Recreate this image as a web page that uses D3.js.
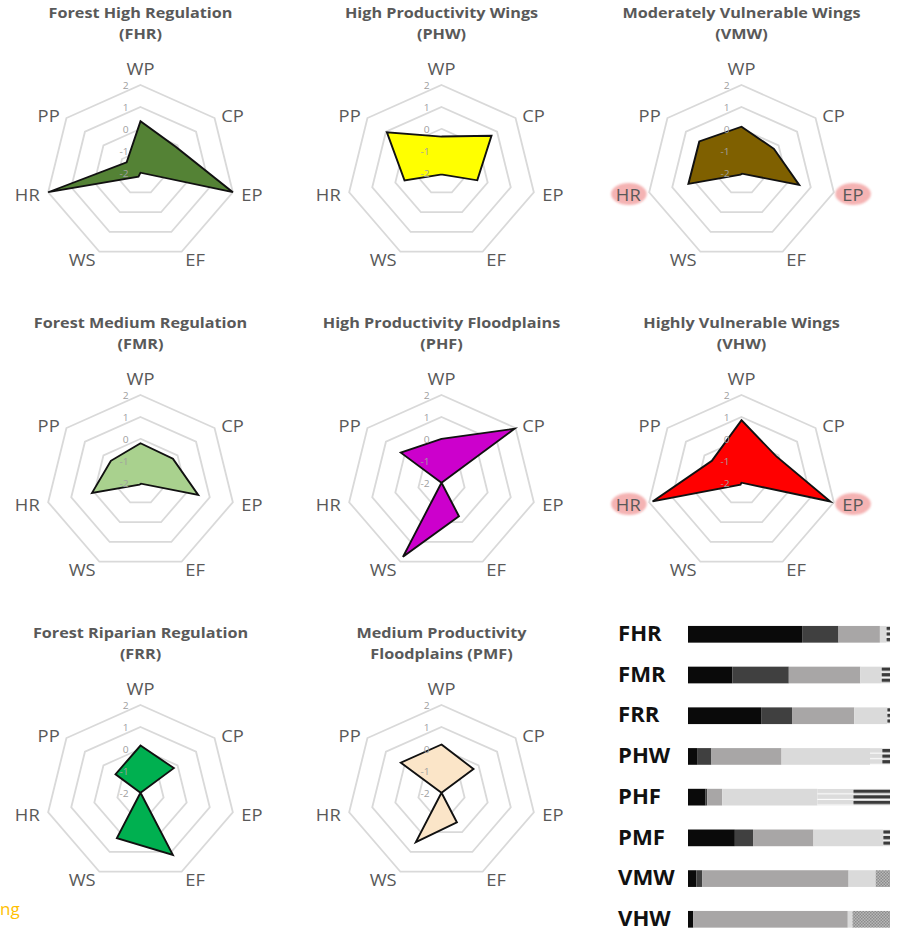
<!DOCTYPE html>
<html>
<head>
<meta charset="utf-8">
<script src="https://cdn.jsdelivr.net/npm/d3@7"></script>
<style>
  body { margin: 0; background: #fff; }
  svg { display: block; }
</style>
</head>
<body>
<svg id="chart" width="899" height="932"></svg>
<script>
// ---- Radar profiles -------------------------------------------------------
const axes = ["WP", "CP", "EP", "EF", "WS", "HR", "PP"];
const ringValues = [-1, 0, 1, 2];
const tickValues = [-2, -1, 0, 1, 2];

const profileCodes = ["FHR", "PHW", "VMW", "FMR", "PHF", "VHW", "FRR", "PMF"];
const titleLine1 = ["Forest High Regulation", "High Productivity Wings", "Moderately Vulnerable Wings",
                    "Forest Medium Regulation", "High Productivity Floodplains", "Highly Vulnerable Wings",
                    "Forest Riparian Regulation", "Medium Productivity"];
const titleLine2 = ["(FHR)", "(PHW)", "(VMW)", "(FMR)", "(PHF)", "(VHW)", "(FRR)", "Floodplains (PMF)"];

// scores on WP, CP, EP, EF, WS, HR, PP
const fhrScores = [0.35, -0.1, 2.0, -2.0, -1.8, 2.0, -1.25];
const phwScores = [-0.35, 0.7, -0.45, -1.9, -1.9, -0.4, 0.95];
const vmwScores = [0.1, -0.25, 0.5, -1.95, -1.9, 0.3, 0.28];
const fmrScores = [-0.2, -0.25, 0.5, -1.95, -1.9, 0.1, -0.4];
const phfScores = [0.0, 1.95, -2.0, -0.3, 1.75, -2.0, 0.2];
const vhwScores = [0.85, -0.1, 1.85, -2.0, -1.9, 1.85, -0.4];
const frrScores = [0.15, -0.2, -2.0, 1.15, 0.3, -2.0, -0.65];
const pmfScores = [0.2, -0.27, -2.0, -0.5, 0.5, -2.0, 0.2];
const profileScores = [fhrScores, phwScores, vmwScores, fmrScores, phfScores, vhwScores, frrScores, pmfScores];

const profileColors = ["#548235", "#ffff00", "#7f6000", "#a9d18e", "#cc00cc", "#ff0000", "#00b050", "#fbe5c8"];
const flaggedProfiles = ["VMW", "VHW"];
const flaggedAxes = ["HR", "EP"];

// ---- Stacked class shares (%) ---------------------------------------------
const barCodes = ["FHR", "FMR", "FRR", "PHW", "PHF", "PMF", "VMW", "VHW"];
const shareClass1 = [56.5, 21.9, 36.2, 4.8, 8.7, 23.2, 4.1, 2.6];
const shareClass2 = [18.0, 28.0, 15.3, 6.8, 0.8, 9.0, 3.0, 0.0];
const shareClass3 = [20.5, 35.4, 30.8, 34.7, 7.4, 29.9, 72.4, 76.5];
const shareClass4 = [3.3, 10.6, 16.4, 43.8, 47.2, 34.6, 13.4, 2.3];
const shareClass5 = [0.0, 0.0, 0.0, 6.1, 17.8, 0.0, 0.0, 0.0];
const shareClass6 = [1.7, 4.1, 1.3, 3.8, 18.1, 3.3, 0.0, 0.0];
const shareClass7 = [0.0, 0.0, 0.0, 0.0, 0.0, 0.0, 7.1, 18.6];

const classKeys = ["c1", "c2", "c3", "c4", "c5", "c6", "c7"];
const classFills = ["#0a0a0a", "#404040", "#a8a6a6", "#dadada", "url(#lightStripes)", "url(#darkStripes)", "url(#stipple)"];

// ---- Layout ---------------------------------------------------------------
const svg = d3.select("#chart");
const stretchX = 1.08;
const R = 87.7;
const colX = [140.5, 441.5, 741.5];
const rowY = [172.7, 482.7, 792.7];
const textGray = "#595959";

const defs = svg.append("defs");
defs.append("filter").attr("id", "soft")
  .append("feGaussianBlur").attr("stdDeviation", 1.2);

const lightStripes = defs.append("pattern").attr("id", "lightStripes")
  .attr("patternUnits", "objectBoundingBox").attr("patternContentUnits", "objectBoundingBox")
  .attr("width", 1).attr("height", 1 / 3);
lightStripes.append("rect").attr("width", 1).attr("height", 1 / 3).attr("fill", "#dcdcdc");
lightStripes.append("rect").attr("y", 0.27).attr("width", 1).attr("height", 0.06).attr("fill", "#ffffff");

const darkStripes = defs.append("pattern").attr("id", "darkStripes")
  .attr("patternUnits", "objectBoundingBox").attr("patternContentUnits", "objectBoundingBox")
  .attr("width", 1).attr("height", 1 / 3);
darkStripes.append("rect").attr("width", 1).attr("height", 1 / 3).attr("fill", "#f4f4f4");
darkStripes.append("rect").attr("y", 0.05).attr("width", 1).attr("height", 0.2).attr("fill", "#3a3a3a");

const stipple = defs.append("pattern").attr("id", "stipple")
  .attr("patternUnits", "userSpaceOnUse").attr("width", 3).attr("height", 3);
stipple.append("rect").attr("width", 3).attr("height", 3).attr("fill", "#b8b8b8");
stipple.append("rect").attr("width", 1.5).attr("height", 1.5).attr("fill", "#8c8c8c");
stipple.append("rect").attr("x", 1.5).attr("y", 1.5).attr("width", 1.5).attr("height", 1.5).attr("fill", "#8c8c8c");

// ---- Radar panels ---------------------------------------------------------
const angle = d3.scalePoint().domain(axes).range([0, 2 * Math.PI * 6 / 7]);
const radius = d3.scaleLinear().domain([-2, 2]).range([0, R]);

const ringLine = d3.lineRadial()
  .angle(a => angle(a.axis))
  .radius(a => radius(a.value))
  .curve(d3.curveLinearClosed);

profileCodes.forEach((code, i) => {
  const cx = colX[i % 3], cy = rowY[Math.floor(i / 3)];
  const g = svg.append("g")
    .attr("transform", `translate(${cx},${cy}) scale(${stretchX},1)`);

  // title
  const title = g.append("text")
    .attr("text-anchor", "middle")
    .attr("font-family", "'Open Sans', sans-serif")
    .attr("font-weight", 700).attr("font-size", 15)
    .attr("fill", textGray);
  title.append("tspan").attr("x", 0).attr("y", -160.7).attr("dominant-baseline", "central").text(titleLine1[i]);
  title.append("tspan").attr("x", 0).attr("y", -139.7).attr("dominant-baseline", "central").text(titleLine2[i]);

  // rings
  g.selectAll("path.ring").data(ringValues).join("path")
    .attr("class", "ring")
    .attr("d", v => ringLine(axes.map(a => ({ axis: a, value: v }))))
    .attr("fill", "none").attr("stroke", "#d9d9d9").attr("stroke-width", 1.7);

  // highlighted axis names
  if (flaggedProfiles.includes(code)) {
    g.selectAll("ellipse.flag").data(flaggedAxes).join("ellipse")
      .attr("class", "flag")
      .attr("cx", a => (R + 8) * Math.sin(angle(a)) + (Math.sin(angle(a)) > 0 ? 10 : -11))
      .attr("cy", a => -(R + 8) * Math.cos(angle(a)))
      .attr("rx", 16.5).attr("ry", 11)
      .attr("fill", "#f3a6a6").attr("opacity", 0.85)
      .attr("filter", "url(#soft)");
  }

  // axis names
  g.selectAll("text.axis").data(axes).join("text")
    .attr("class", "axis")
    .attr("x", a => (R + 8) * Math.sin(angle(a)))
    .attr("y", a => -(R + 8) * Math.cos(angle(a)) + (Math.cos(angle(a)) > 0.9 ? -9 : (Math.cos(angle(a)) > 0.5 ? 2 : 0)))
    .attr("text-anchor", a => {
      const s = Math.sin(angle(a));
      return s > 0.2 ? "start" : (s < -0.2 ? "end" : "middle");
    })
    .attr("dominant-baseline", "central")
    .attr("font-family", "'Open Sans', sans-serif")
    .attr("font-size", 17)
    .attr("fill", textGray)
    .text(a => a);

  // profile polygon
  const pts = axes.map((a, k) => ({ axis: a, value: profileScores[i][k] }));
  g.append("path")
    .attr("d", ringLine(pts))
    .attr("fill", profileColors[i])
    .attr("stroke", "#111").attr("stroke-width", 1.8)
    .attr("stroke-linejoin", "miter");

  // radial tick labels
  g.selectAll("text.tick").data(tickValues).join("text")
    .attr("class", "tick")
    .attr("x", -11).attr("y", v => -radius(v))
    .attr("text-anchor", "end").attr("dominant-baseline", "central")
    .attr("font-family", "'Open Sans', sans-serif")
    .attr("font-size", 9.5).attr("fill", "#a0a0a0")
    .text(v => v);
});

// ---- Stacked bars ---------------------------------------------------------
const classShares = [shareClass1, shareClass2, shareClass3, shareClass4, shareClass5, shareClass6, shareClass7];
const rows = barCodes.map((code, r) => {
  const row = { code };
  classKeys.forEach((k, c) => { row[k] = classShares[c][r]; });
  return row;
});
const stacked = d3.stack().keys(classKeys)(rows);

const x = d3.scaleLinear().domain([0, 100]).range([688, 890]);
const y = d3.scalePoint().domain(barCodes).range([634.3, 919.3]);
const barH = 16.7;

const bars = svg.append("g");
stacked.forEach((layer, c) => {
  bars.selectAll(null).data(layer.filter(d => d[1] > d[0])).join("rect")
    .attr("x", d => x(d[0]))
    .attr("y", d => y(d.data.code) - barH / 2)
    .attr("width", d => x(d[1]) - x(d[0]))
    .attr("height", barH)
    .attr("fill", classFills[c]);
});

svg.append("g").selectAll("text").data(barCodes).join("text")
  .attr("transform", d => `translate(618,${y(d) - 1.5}) scale(${stretchX},1)`)
  .attr("dominant-baseline", "central")
  .attr("font-family", "'Open Sans', sans-serif")
  .attr("font-weight", 700).attr("font-size", 20.5)
  .attr("fill", "#111")
  .text(d => d);

// trailing word at the lower-left edge
svg.append("text")
  .attr("x", 0).attr("y", 915).attr("text-anchor", "start")
  .attr("font-family", "'Open Sans', sans-serif")
  .attr("font-size", 17).attr("fill", "#ffc000")
  .text("ng");
</script>
</body>
</html>
